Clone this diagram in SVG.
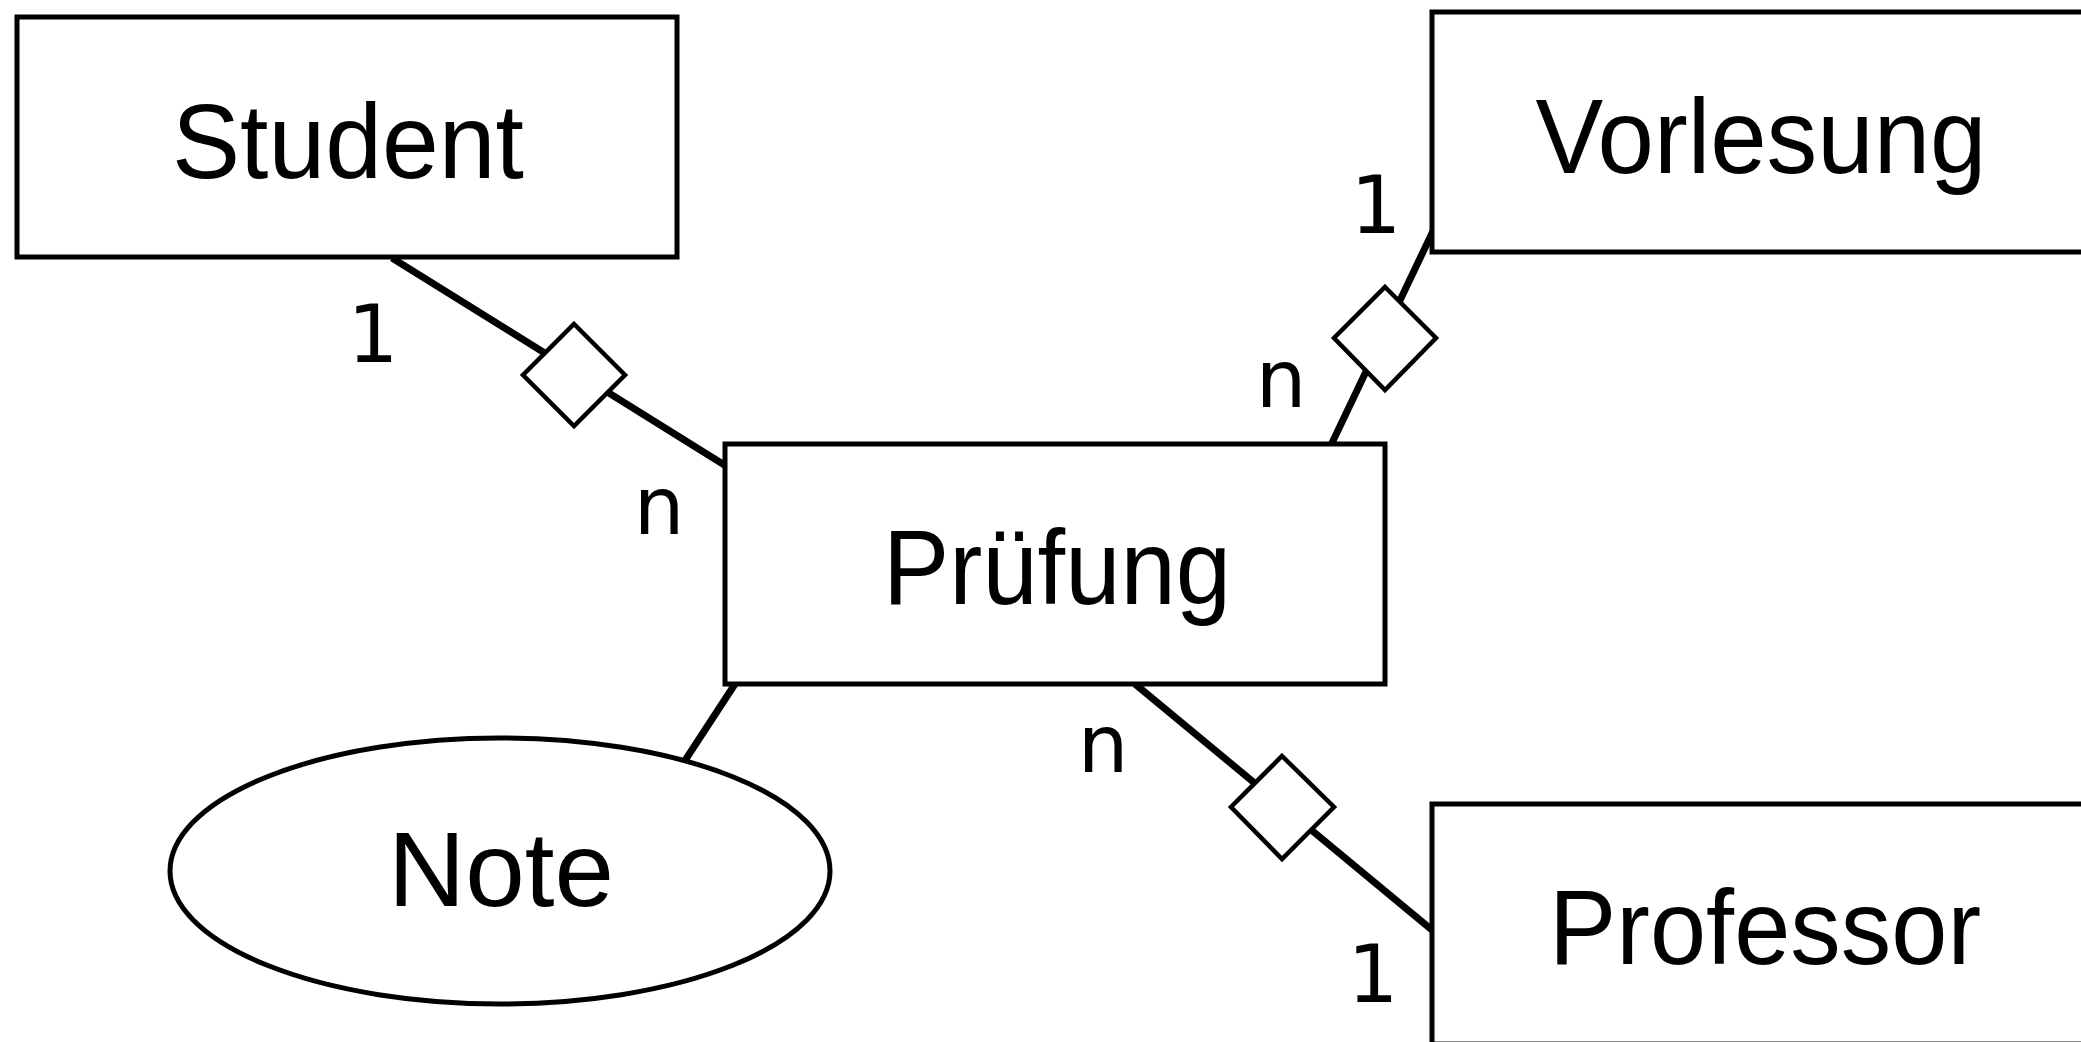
<svg xmlns="http://www.w3.org/2000/svg" width="2081" height="1042" viewBox="0 0 2081 1042">
  <style>
    .entity { fill: #ffffff; stroke: #000000; stroke-width: 5; }
    .rel { fill: #ffffff; stroke: #000000; stroke-width: 4.5; }
    .attr { fill: #ffffff; stroke: #000000; stroke-width: 5; }
    .link { stroke: #000000; stroke-width: 7; fill: none; }
    .name { font-family: "Liberation Sans", Arial, sans-serif; font-size: 106px; fill: #000000; text-anchor: middle; }
    .card { font-family: "DejaVu Sans", "Liberation Sans", sans-serif; font-size: 80px; fill: #000000; text-anchor: middle; }
  </style>
  <rect width="2081" height="1042" fill="#ffffff"/>

  <!-- connector lines (drawn first so the shapes sit on top) -->
  <g id="connectors">
    <line class="link" x1="392" y1="258" x2="726" y2="466"/>
    <line class="link" x1="1434" y1="229" x2="1331" y2="445"/>
    <line class="link" x1="1135" y1="684" x2="1432" y2="930"/>
    <line class="link" x1="735" y1="684" x2="684" y2="762"/>
  </g>

  <!-- entities -->
  <g id="student">
    <rect class="entity" x="17" y="17" width="660" height="240"/>
    <text class="name" x="348" y="178" textLength="352" lengthAdjust="spacingAndGlyphs">Student</text>
  </g>
  <g id="pruefung">
    <rect class="entity" x="725" y="444" width="660" height="240"/>
    <text class="name" x="1057" y="604" textLength="348" lengthAdjust="spacingAndGlyphs">Prüfung</text>
  </g>
  <g id="vorlesung">
    <rect class="entity" x="1432" y="12" width="660" height="240"/>
    <text class="name" x="1761" y="173" textLength="451" lengthAdjust="spacingAndGlyphs">Vorlesung</text>
  </g>
  <g id="professor">
    <rect class="entity" x="1432" y="804" width="660" height="240"/>
    <text class="name" x="1765" y="964" textLength="432" lengthAdjust="spacingAndGlyphs">Professor</text>
  </g>

  <!-- attribute -->
  <g id="note">
    <ellipse class="attr" cx="500" cy="871" rx="330" ry="133"/>
    <text class="name" x="501" y="906" textLength="226" lengthAdjust="spacingAndGlyphs">Note</text>
  </g>

  <!-- relationships -->
  <g id="rel-student">
    <polygon class="rel" points="574,324 625,375 574,426 523,375"/>
  </g>
  <g id="rel-vorlesung">
    <polygon class="rel" points="1385,287 1436,338 1385,390 1334,338"/>
  </g>
  <g id="rel-professor">
    <polygon class="rel" points="1282,756 1334,807 1282,859 1231,807"/>
  </g>

  <!-- cardinalities -->
  <g id="cardinalities">
    <text class="card" x="373" y="362">1</text>
    <text class="card" x="659" y="534">n</text>
    <text class="card" x="1376" y="233">1</text>
    <text class="card" x="1281" y="407">n</text>
    <text class="card" x="1103" y="772">n</text>
    <text class="card" x="1373" y="1002">1</text>
  </g>
</svg>
